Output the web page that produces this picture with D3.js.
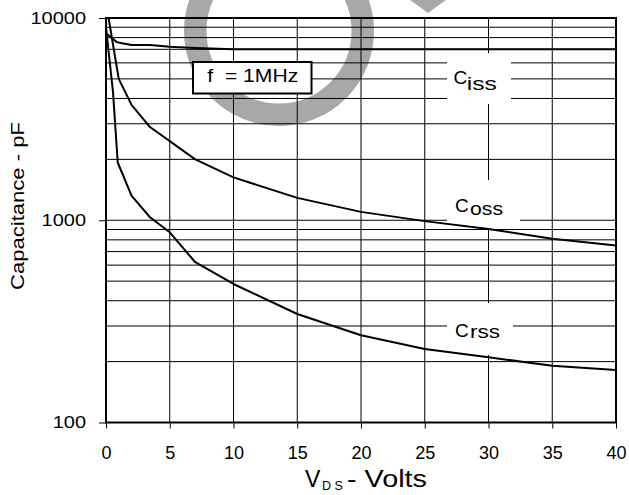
<!DOCTYPE html>
<html>
<head>
<meta charset="utf-8">
<script src="https://cdn.jsdelivr.net/npm/d3@7"></script>
<style>
  body { margin: 0; background: #fff; }
  text { font-family: "Liberation Sans", Arial, sans-serif; fill: #000; }
</style>
</head>
<body>
<div id="chart"></div>
<script>
// curve data (V_DS in volts, capacitance in pF)
const cissV = [0, 0.85, 1.25, 2, 3.45, 5, 7, 10, 15, 20, 25, 30, 35, 40];
const cissC = [8400, 7600, 7500, 7350, 7350, 7200, 7100, 7000, 7000, 7000, 7000, 7000, 7000, 7000];
const cossV = [0.2, 1, 2, 3.45, 7, 10, 15, 20, 25, 30, 35, 40];
const cossC = [10000, 5000, 3720, 2890, 2000, 1630, 1290, 1100, 990, 905, 810, 750];
const crssV = [0, 0.55, 0.92, 2, 3.45, 5, 7, 10, 15, 20, 25, 30, 35, 40];
const crssC = [9000, 4300, 1930, 1324, 1035, 872, 620, 484, 344, 270, 231, 210, 191, 182];

const xTicks = [0, 5, 10, 15, 20, 25, 30, 35, 40];
const yTicks = [100, 1000, 10000];
const yGrid = [200, 300, 400, 500, 600, 700, 800, 900, 2000, 3000, 4000, 5000, 6000, 7000, 8000, 9000];

const SIZE = { width: 629, height: 495 };
const PLOT = { left: 106, right: 616, top: 18, bottom: 422.5 };

function draw() {
  const svg = d3.select("div#chart").append("svg")
      .attr("width", SIZE.width)
      .attr("height", SIZE.height);

  const x = d3.scaleLinear().domain([0, 40]).range([PLOT.left, PLOT.right]);
  const y = d3.scaleLog().domain([100, 10000]).range([PLOT.bottom, PLOT.top]);

  // watermark behind the grid
  svg.append("circle")
      .attr("cx", 279).attr("cy", 31).attr("r", 83.75)
      .attr("fill", "none").attr("stroke", "#a8a8a8").attr("stroke-width", 22.5);
  svg.append("polygon")
      .attr("points", "410,0 446,0 428,13")
      .attr("fill", "#a8a8a8");

  // grid
  svg.append("g").selectAll("line").data(xTicks.slice(1, -1)).join("line")
      .attr("x1", d => x(d)).attr("x2", d => x(d))
      .attr("y1", PLOT.top).attr("y2", PLOT.bottom)
      .attr("stroke", "#000").attr("stroke-width", 1);
  svg.append("g").selectAll("line").data(yGrid.concat([1000])).join("line")
      .attr("x1", PLOT.left).attr("x2", PLOT.right)
      .attr("y1", d => y(d)).attr("y2", d => y(d))
      .attr("stroke", "#000").attr("stroke-width", 1);

  // white boxes that cut the grid behind the labels
  const boxes = [[447, 53, 64, 51], [447, 180, 73, 48], [447, 303, 66, 52]];
  svg.append("g").selectAll("rect").data(boxes).join("rect")
      .attr("x", d => d[0]).attr("y", d => d[1])
      .attr("width", d => d[2]).attr("height", d => d[3])
      .attr("fill", "#fff");

  // f = 1MHz box
  svg.append("rect")
      .attr("x", 193).attr("y", 62).attr("width", 118.5).attr("height", 31.5)
      .attr("fill", "#fff").attr("stroke", "#000").attr("stroke-width", 2);
  svg.append("text")
      .attr("x", 207.3).attr("y", 81.7)
      .attr("font-size", 18.5)
      .attr("textLength", 91).attr("lengthAdjust", "spacingAndGlyphs")
      .style("white-space", "pre")
      .text("f  = 1MHz");

  // curves
  const line = d3.line().x(d => x(d[0])).y(d => y(d[1]));
  const series = [d3.zip(cissV, cissC), d3.zip(cossV, cossC), d3.zip(crssV, crssC)];
  svg.append("g").selectAll("path").data(series).join("path")
      .attr("d", line)
      .attr("fill", "none").attr("stroke", "#000").attr("stroke-width", 2)
      .attr("stroke-linejoin", "round");

  // frame
  svg.append("rect")
      .attr("x", PLOT.left).attr("y", PLOT.top)
      .attr("width", PLOT.right - PLOT.left).attr("height", PLOT.bottom - PLOT.top)
      .attr("fill", "none").attr("stroke", "#000").attr("stroke-width", 2);

  // axes
  const yAxis = svg.append("g")
      .attr("transform", `translate(${PLOT.left},0)`)
      .call(d3.axisLeft(y).tickValues(yTicks).tickFormat(d3.format("d")).tickSize(7).tickPadding(13));
  yAxis.select(".domain").remove();
  yAxis.selectAll("line").attr("stroke", "#000");
  yAxis.selectAll("text")
      .attr("font-size", 17).attr("font-family", null)
      .attr("textLength", d => String(d).length * 11.1)
      .attr("lengthAdjust", "spacingAndGlyphs");

  const xAxis = svg.append("g")
      .attr("transform", `translate(0,${PLOT.bottom})`)
      .call(d3.axisBottom(x).tickValues(xTicks).tickSize(6).tickPadding(18));
  xAxis.select(".domain").remove();
  xAxis.selectAll("line").attr("stroke", "#000");
  xAxis.selectAll("text").attr("font-size", 18).attr("font-family", null);

  // series labels
  const labels = [
    { main: "C", sub: "iss", x: 453.5, y: 84.3, subX: 466.7, subY: 90, subW: 30 },
    { main: "C", sub: "oss", x: 455, y: 212, subX: 470, subY: 215, subW: 33 },
    { main: "C", sub: "rss", x: 455, y: 336.7, subX: 470, subY: 337.7, subW: 30 }
  ];
  const lg = svg.append("g");
  labels.forEach(l => {
    lg.append("text").attr("x", l.x).attr("y", l.y).attr("font-size", 19).text(l.main);
    lg.append("text").attr("x", l.subX).attr("y", l.subY).attr("font-size", 19)
        .attr("textLength", l.subW).attr("lengthAdjust", "spacingAndGlyphs").text(l.sub);
  });

  // axis titles
  svg.append("text")
      .attr("transform", "translate(24,290) rotate(-90)")
      .attr("font-size", 18)
      .attr("textLength", 168).attr("lengthAdjust", "spacingAndGlyphs")
      .text("Capacitance - pF");
  svg.append("text").attr("x", 305).attr("y", 486.7).attr("font-size", 23).text("V");
  svg.append("text").attr("x", 322).attr("y", 490).attr("font-size", 12.5)
      .attr("textLength", 21).attr("lengthAdjust", "spacingAndGlyphs")
      .style("white-space", "pre").text("D S");
  svg.append("text").attr("x", 347).attr("y", 486.7).attr("font-size", 23)
      .attr("textLength", 80).attr("lengthAdjust", "spacingAndGlyphs")
      .style("white-space", "pre").text("- Volts");
}

draw();
</script>
</body>
</html>
